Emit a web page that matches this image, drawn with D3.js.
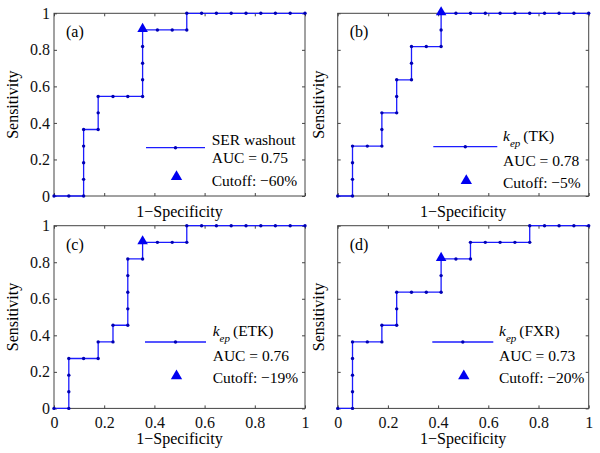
<!DOCTYPE html>
<html>
<head>
<meta charset="utf-8">
<script src="https://cdn.jsdelivr.net/npm/d3@7"></script>
<style>
  body { margin: 0; background: #fff; }
  svg { display: block; }
</style>
</head>
<body>
<div id="chart"></div>
<script>
// ROC points (1-specificity, sensitivity)
const fprA = [0, 0.059, 0.118, 0.118, 0.118, 0.118, 0.118, 0.176, 0.176, 0.176, 0.235, 0.294, 0.353, 0.353, 0.353, 0.353, 0.353, 0.412, 0.471, 0.529, 0.529, 0.588, 0.647, 0.706, 0.765, 0.824, 0.882, 0.941, 1];
const tprA = [0, 0, 0, 0.091, 0.182, 0.273, 0.364, 0.364, 0.455, 0.545, 0.545, 0.545, 0.545, 0.636, 0.727, 0.818, 0.909, 0.909, 0.909, 0.909, 1, 1, 1, 1, 1, 1, 1, 1, 1];

const fprB = [0, 0.059, 0.059, 0.059, 0.059, 0.118, 0.176, 0.176, 0.176, 0.235, 0.235, 0.235, 0.294, 0.294, 0.294, 0.353, 0.412, 0.412, 0.412, 0.471, 0.529, 0.588, 0.647, 0.706, 0.765, 0.824, 0.882, 0.941, 1];
const tprB = [0, 0, 0.091, 0.182, 0.273, 0.273, 0.273, 0.364, 0.455, 0.455, 0.545, 0.636, 0.636, 0.727, 0.818, 0.818, 0.818, 0.909, 1, 1, 1, 1, 1, 1, 1, 1, 1, 1, 1];

const fprC = [0, 0.059, 0.059, 0.059, 0.059, 0.118, 0.176, 0.176, 0.235, 0.235, 0.294, 0.294, 0.294, 0.294, 0.294, 0.353, 0.353, 0.412, 0.471, 0.529, 0.529, 0.588, 0.647, 0.706, 0.765, 0.824, 0.882, 0.941, 1];
const tprC = [0, 0, 0.091, 0.182, 0.273, 0.273, 0.273, 0.364, 0.364, 0.455, 0.455, 0.545, 0.636, 0.727, 0.818, 0.818, 0.909, 0.909, 0.909, 0.909, 1, 1, 1, 1, 1, 1, 1, 1, 1];

const fprD = [0, 0.059, 0.059, 0.059, 0.059, 0.059, 0.118, 0.176, 0.176, 0.235, 0.235, 0.235, 0.294, 0.353, 0.412, 0.412, 0.412, 0.471, 0.529, 0.529, 0.588, 0.647, 0.706, 0.765, 0.765, 0.824, 0.882, 0.941, 1];
const tprD = [0, 0, 0.091, 0.182, 0.273, 0.364, 0.364, 0.364, 0.455, 0.455, 0.545, 0.636, 0.636, 0.636, 0.636, 0.727, 0.818, 0.818, 0.818, 0.909, 0.909, 0.909, 0.909, 0.909, 1, 1, 1, 1, 1];

// cutoff markers
const cutoffFpr = [0.353, 0.412, 0.353, 0.412];
const cutoffTpr = [0.909, 1, 0.909, 0.818];

const panelLabels = ["(a)", "(b)", "(c)", "(d)"];
const seriesNames = ["SER washout", "(TK)", "(ETK)", "(FXR)"];
const aucValues = ["0.75", "0.78", "0.76", "0.73"];
const cutoffLabels = ["\u221260%", "\u22125%", "\u221219%", "\u221220%"];
const tickValues = [0, 0.2, 0.4, 0.6, 0.8, 1];
const tickLabels = ["0", "0.2", "0.4", "0.6", "0.8", "1"];

const curves = [[fprA, tprA], [fprB, tprB], [fprC, tprC], [fprD, tprD]];

// layout of the 2x2 grid
const W = 600, H = 453;
const axW = 251, axH = 182.7;
const panels = [
    {left: 54, top: 13.3, yTicks: true, xTicks: false, leg: {x0: 92, x1: 151, y: 134.4, tx: 157.7}},
    {left: 337.7, top: 13.3, yTicks: false, xTicks: false, leg: {x0: 95.6, x1: 159.6, y: 133.4, tx: 165.3}},
    {left: 54, top: 225.7, yTicks: true, xTicks: true, leg: {x0: 91, x1: 152, y: 116.3, tx: 158.7}},
    {left: 337.7, top: 225.7, yTicks: false, xTicks: true, leg: {x0: 94.6, x1: 155.6, y: 116.3, tx: 161.3}}
];

const font = "'Liberation Serif', 'Times New Roman', serif";
const axisColor = "#444";
const lineColor = "#1c1cff";
const dotColor = "#0000b4";
const triColor = "#0000f0";

const svg = d3.select("#chart").append("svg")
    .attr("width", W)
    .attr("height", H)
    .style("background", "#fff");

const x = d3.scaleLinear().domain([0, 1]).range([0, axW]);
const y = d3.scaleLinear().domain([0, 1]).range([axH, 0]);
const fmt = d => tickLabels[tickValues.indexOf(d)];

const tri = d3.symbol().type(d3.symbolTriangle);

panels.forEach((p, i) => {
    const g = svg.append("g").attr("transform", `translate(${p.left},${p.top})`);

    // axes, ticks pointing inward on all four sides
    const styleAxis = sel => {
        sel.select(".domain").remove();
        sel.selectAll("line").attr("stroke", axisColor);
        sel.selectAll("text")
            .attr("font-family", font)
            .attr("font-size", 16)
            .attr("fill", "#111");
        sel.attr("font-family", null).attr("font-size", null);
    };

    g.append("g")
        .attr("transform", `translate(0,${axH})`)
        .call(d3.axisBottom(x).tickValues(tickValues).tickSize(-3).tickPadding(8)
            .tickFormat(p.xTicks ? fmt : () => ""))
        .call(styleAxis);
    g.append("g")
        .call(d3.axisTop(x).tickValues(tickValues).tickSize(-3).tickFormat(() => ""))
        .call(styleAxis);
    g.append("g")
        .call(d3.axisLeft(y).tickValues(tickValues).tickSize(-3).tickPadding(4)
            .tickFormat(p.yTicks ? fmt : () => ""))
        .call(styleAxis);
    g.append("g")
        .attr("transform", `translate(${axW},0)`)
        .call(d3.axisRight(y).tickValues(tickValues).tickSize(-3).tickFormat(() => ""))
        .call(styleAxis);

    g.append("rect")
        .attr("width", axW)
        .attr("height", axH)
        .attr("fill", "none")
        .attr("stroke", axisColor)
        .attr("stroke-width", 1);

    // axis titles
    g.append("text")
        .attr("x", axW / 2)
        .attr("y", axH + (p.xTicks ? 36 : 21))
        .attr("text-anchor", "middle")
        .attr("font-family", font)
        .attr("font-size", 16)
        .text("1\u2212Specificity");

    g.append("text")
        .attr("transform", `translate(${p.yTicks ? -36 : -14},${axH / 2}) rotate(-90)`)
        .attr("text-anchor", "middle")
        .attr("font-family", font)
        .attr("font-size", 16)
        .text("Sensitivity");

    g.append("text")
        .attr("x", 12)
        .attr("y", 24)
        .attr("font-family", font)
        .attr("font-size", 16)
        .text(panelLabels[i]);

    // ROC curve
    const pts = curves[i][0].map((fx, k) => [fx, curves[i][1][k]]);
    g.append("path")
        .datum(pts)
        .attr("fill", "none")
        .attr("stroke", lineColor)
        .attr("stroke-width", 1.3)
        .attr("d", d3.line().x(d => x(d[0])).y(d => y(d[1])));

    g.selectAll("circle.pt")
        .data(pts)
        .join("circle")
        .attr("class", "pt")
        .attr("cx", d => x(d[0]))
        .attr("cy", d => y(d[1]))
        .attr("r", 1.7)
        .attr("fill", dotColor);

    g.append("path")
        .attr("d", tri.size(48)())
        .attr("transform", `translate(${x(cutoffFpr[i])},${y(cutoffTpr[i]) - 1})`)
        .attr("fill", triColor);

    // legend
    const L = p.leg;
    const isK = i > 0;
    g.append("line")
        .attr("x1", L.x0).attr("x2", L.x1)
        .attr("y1", L.y).attr("y2", L.y)
        .attr("stroke", lineColor)
        .attr("stroke-width", 1.3);
    g.append("circle")
        .attr("cx", (L.x0 + L.x1) / 2)
        .attr("cy", L.y)
        .attr("r", 1.7)
        .attr("fill", dotColor);
    g.append("path")
        .attr("d", tri.size(56)())
        .attr("transform", `translate(${(L.x0 + L.x1) / 2 + 1},${L.y + (isK ? 34 : 29)})`)
        .attr("fill", triColor);

    const t1 = g.append("text")
        .attr("x", L.tx)
        .attr("y", L.y + (isK ? -6 : -2.5))
        .attr("font-family", font)
        .attr("font-size", 15.5);
    if (isK) {
        t1.append("tspan").attr("font-style", "italic").text("k");
        t1.append("tspan").attr("font-style", "italic").attr("font-size", 11)
            .attr("dx", 0).attr("dy", 6).text("ep");
        t1.append("tspan").attr("dx", 3).attr("dy", -6).text(seriesNames[i]);
    } else {
        t1.text(seriesNames[i]);
    }

    g.append("text")
        .attr("x", L.tx)
        .attr("y", L.y + (isK ? 19 : 15))
        .attr("font-family", font)
        .attr("font-size", 15.5)
        .text("AUC = " + aucValues[i]);

    g.append("text")
        .attr("x", L.tx)
        .attr("y", L.y + (isK ? 41 : 38.5))
        .attr("font-family", font)
        .attr("font-size", 15.5)
        .text("Cutoff: " + cutoffLabels[i]);
});
</script>
</body>
</html>
